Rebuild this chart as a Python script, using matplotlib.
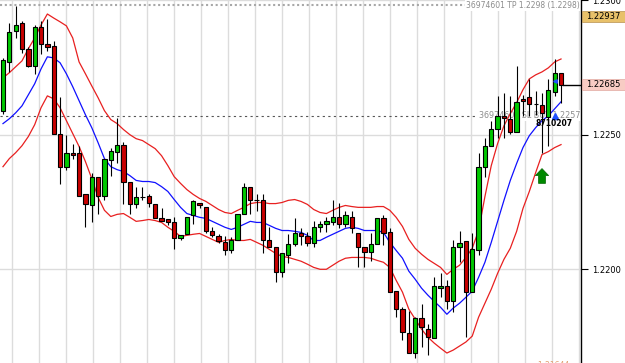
import numpy as np
import matplotlib.pyplot as plt
from matplotlib.patches import Rectangle
from matplotlib.transforms import blended_transform_factory

# candles (oldest first)
opens = [1.22589, 1.22770, 1.22885, 1.22915, 1.22819, 1.22756, 1.22900, 1.22837, 1.22830, 1.22504,
         1.22381, 1.22430, 1.22433, 1.22278, 1.22237, 1.22341, 1.22274, 1.22407, 1.22437, 1.22463,
         1.22326, 1.22244, 1.22270, 1.22274, 1.22244, 1.22189, 1.22185, 1.22174, 1.22115, 1.22130,
         1.22200, 1.22248, 1.22230, 1.22141, 1.22122, 1.22100, 1.22070, 1.22107, 1.22204, 1.22304,
         1.22259, 1.22259, 1.22107, 1.22081, 1.21989, 1.22052, 1.22093, 1.22133, 1.22122, 1.22096,
         1.22156, 1.22167, 1.22174, 1.22196, 1.22167, 1.22196, 1.22133, 1.22081, 1.22063, 1.22093,
         1.22189, 1.22137, 1.21919, 1.21852, 1.21763, 1.21689, 1.21819, 1.21778, 1.21744, 1.21930,
         1.21937, 1.21881, 1.22081, 1.22104, 1.21915, 1.22070, 1.22378, 1.22459, 1.22522, 1.22570,
         1.22559, 1.22511, 1.22633, 1.22641, 1.22615, 1.22611, 1.22567, 1.22659, 1.22730]
highs = [1.22785, 1.22915, 1.22978, 1.22922, 1.22826, 1.22907, 1.22922, 1.22930, 1.22848, 1.22641,
         1.22500, 1.22467, 1.22456, 1.22278, 1.22356, 1.22341, 1.22411, 1.22452, 1.22563, 1.22474,
         1.22326, 1.22304, 1.22307, 1.22281, 1.22244, 1.22226, 1.22185, 1.22193, 1.22126, 1.22193,
         1.22256, 1.22248, 1.22230, 1.22156, 1.22130, 1.22122, 1.22119, 1.22204, 1.22322, 1.22304,
         1.22281, 1.22281, 1.22156, 1.22081, 1.22059, 1.22130, 1.22189, 1.22152, 1.22137, 1.22181,
         1.22181, 1.22193, 1.22256, 1.22248, 1.22215, 1.22215, 1.22133, 1.22081, 1.22133, 1.22189,
         1.22200, 1.22152, 1.21919, 1.21859, 1.21844, 1.21822, 1.21870, 1.21796, 1.21970, 1.21985,
         1.21959, 1.22107, 1.22141, 1.22104, 1.22133, 1.22430, 1.22489, 1.22552, 1.22644, 1.22656,
         1.22644, 1.22756, 1.22648, 1.22707, 1.22663, 1.22656, 1.22707, 1.22781, 1.22730]
lows = [1.22578, 1.22733, 1.22859, 1.22804, 1.22752, 1.22726, 1.22800, 1.22811, 1.22504, 1.22315,
        1.22367, 1.22411, 1.22274, 1.22156, 1.22174, 1.22207, 1.22256, 1.22348, 1.22393, 1.22244,
        1.22207, 1.22226, 1.22256, 1.22233, 1.22189, 1.22178, 1.22163, 1.22074, 1.22107, 1.22130,
        1.22170, 1.22226, 1.22133, 1.22119, 1.22096, 1.22052, 1.22059, 1.22107, 1.22204, 1.22207,
        1.22215, 1.22059, 1.22081, 1.21952, 1.21970, 1.22022, 1.22085, 1.22089, 1.22085, 1.22081,
        1.22137, 1.22137, 1.22163, 1.22152, 1.22156, 1.22133, 1.22007, 1.22007, 1.22030, 1.22093,
        1.22089, 1.21915, 1.21822, 1.21737, 1.21689, 1.21670, 1.21711, 1.21682, 1.21744, 1.21896,
        1.21852, 1.21841, 1.22026, 1.21748, 1.21915, 1.22052, 1.22341, 1.22459, 1.22489, 1.22489,
        1.22504, 1.22511, 1.22570, 1.22570, 1.22574, 1.22430, 1.22459, 1.22644, 1.22619]
closes = [1.22778, 1.22881, 1.22907, 1.22819, 1.22756, 1.22900, 1.22837, 1.22826, 1.22504, 1.22381,
          1.22430, 1.22426, 1.22274, 1.22241, 1.22344, 1.22274, 1.22411, 1.22441, 1.22463, 1.22326,
          1.22244, 1.22267, 1.22270, 1.22248, 1.22189, 1.22178, 1.22174, 1.22115, 1.22126, 1.22193,
          1.22252, 1.22237, 1.22141, 1.22126, 1.22104, 1.22070, 1.22107, 1.22204, 1.22304, 1.22256,
          1.22256, 1.22107, 1.22081, 1.21989, 1.22059, 1.22093, 1.22133, 1.22122, 1.22096, 1.22156,
          1.22170, 1.22178, 1.22196, 1.22167, 1.22200, 1.22152, 1.22081, 1.22063, 1.22093, 1.22189,
          1.22133, 1.21915, 1.21852, 1.21767, 1.21689, 1.21819, 1.21785, 1.21748, 1.21937, 1.21937,
          1.21881, 1.22081, 1.22096, 1.21915, 1.22074, 1.22378, 1.22459, 1.22522, 1.22570, 1.22563,
          1.22511, 1.22622, 1.22626, 1.22615, 1.22615, 1.22581, 1.22667, 1.22730, 1.22685]

# envelope bands, read at each candle
upper = [1.22711, 1.22730, 1.22752, 1.22774, 1.22819, 1.22859, 1.22907, 1.22948, 1.22933, 1.22919,
         1.22904, 1.22859, 1.22770, 1.22726, 1.22681, 1.22637, 1.22589, 1.22556, 1.22541, 1.22519,
         1.22500, 1.22485, 1.22478, 1.22463, 1.22448, 1.22422, 1.22385, 1.22344, 1.22319, 1.22296,
         1.22278, 1.22263, 1.22252, 1.22237, 1.22222, 1.22211, 1.22207, 1.22219, 1.22230, 1.22244,
         1.22248, 1.22248, 1.22244, 1.22244, 1.22248, 1.22256, 1.22259, 1.22252, 1.22241, 1.22222,
         1.22211, 1.22207, 1.22219, 1.22230, 1.22237, 1.22233, 1.22230, 1.22230, 1.22230, 1.22233,
         1.22233, 1.22219, 1.22193, 1.22159, 1.22111, 1.22078, 1.22056, 1.22037, 1.22022, 1.22007,
         1.21981, 1.22000, 1.22015, 1.22044, 1.22078, 1.22144, 1.22270, 1.22385, 1.22467, 1.22533,
         1.22578, 1.22619, 1.22667, 1.22707, 1.22722, 1.22733, 1.22748, 1.22770, 1.22781]
middle = [1.22541, 1.22559, 1.22581, 1.22607, 1.22648, 1.22689, 1.22744, 1.22789, 1.22785, 1.22767,
          1.22726, 1.22678, 1.22626, 1.22574, 1.22526, 1.22470, 1.22411, 1.22381, 1.22370, 1.22363,
          1.22348, 1.22330, 1.22326, 1.22326, 1.22322, 1.22307, 1.22289, 1.22259, 1.22230, 1.22207,
          1.22200, 1.22193, 1.22189, 1.22178, 1.22167, 1.22156, 1.22148, 1.22156, 1.22167, 1.22178,
          1.22174, 1.22174, 1.22163, 1.22152, 1.22144, 1.22144, 1.22141, 1.22137, 1.22126, 1.22107,
          1.22107, 1.22119, 1.22130, 1.22141, 1.22152, 1.22156, 1.22152, 1.22144, 1.22144, 1.22144,
          1.22137, 1.22100, 1.22070, 1.22041, 1.21993, 1.21963, 1.21930, 1.21904, 1.21881, 1.21859,
          1.21833, 1.21856, 1.21874, 1.21896, 1.21919, 1.21970, 1.22026, 1.22100, 1.22178, 1.22256,
          1.22330, 1.22393, 1.22452, 1.22496, 1.22526, 1.22552, 1.22570, 1.22596, 1.22622]
lower = [1.22381, 1.22411, 1.22433, 1.22459, 1.22493, 1.22537, 1.22600, 1.22644, 1.22633, 1.22600,
         1.22552, 1.22504, 1.22456, 1.22400, 1.22337, 1.22267, 1.22219, 1.22196, 1.22204, 1.22207,
         1.22193, 1.22178, 1.22181, 1.22185, 1.22181, 1.22174, 1.22156, 1.22141, 1.22122, 1.22126,
         1.22130, 1.22133, 1.22122, 1.22111, 1.22100, 1.22107, 1.22111, 1.22107, 1.22107, 1.22111,
         1.22100, 1.22089, 1.22074, 1.22059, 1.22048, 1.22044, 1.22037, 1.22030, 1.22019, 1.22007,
         1.22000, 1.22000, 1.22015, 1.22030, 1.22041, 1.22044, 1.22044, 1.22044, 1.22041, 1.22033,
         1.22026, 1.22007, 1.21959, 1.21915, 1.21852, 1.21815, 1.21778, 1.21748, 1.21726, 1.21707,
         1.21689, 1.21700, 1.21715, 1.21730, 1.21752, 1.21822, 1.21874, 1.21926, 1.21985, 1.22037,
         1.22078, 1.22141, 1.22226, 1.22289, 1.22359, 1.22426, 1.22437, 1.22452, 1.22463]

price_ticks = [1.2200, 1.2250, 1.2300]
price_labels = ["1.2200", "1.2250", "1.2300"]
tp_price = 1.2298
sl_price = 1.2257
ask_price = 1.22937
last_price = 1.22685
low_price = 1.21644
tp_text = "36974601 TP 1.2298 (1.2298)"
sl_text = "36974601 SL BUY 1.2257"
order_text = "8710207"

GREEN = "#00C800"
RED = "#C80000"

fig = plt.figure(figsize=(6.25, 3.63), dpi=100)
ax = fig.add_axes([0, 0, 581 / 625, 1])
ax.set_xlim(-0.47, 91.15)
ax.set_ylim(1.21652, 1.22996)

# grid
for gx in np.arange(1.42, 91, 4.258):
    ax.axvline(gx, color="#DCDCDC", lw=1.0, zorder=0)
for p in price_ticks:
    ax.axhline(p, color="#DCDCDC", lw=1.0, zorder=0)

# order levels
ax.axhline(tp_price, color="#A8A8A8", lw=1.5, dashes=(1, 1.3), zorder=1)
ax.axhline(sl_price, color="#555555", lw=0.8, dashes=(2, 3), zorder=1)
ax.text(91.0, tp_price, tp_text, ha="right", va="center", fontsize=5.5,
        color="#8C8C8C", bbox=dict(fc="white", ec="none", pad=0.6), zorder=1.5)
ax.text(91.0, sl_price, sl_text, ha="right", va="center", fontsize=5.8,
        color="#8C8C8C", bbox=dict(fc="white", ec="none", pad=0.6), zorder=1.5)

# bands
idx = np.arange(len(opens))
ax.plot(idx, upper, color="#E82020", lw=0.9, zorder=2)
ax.plot(idx, lower, color="#E82020", lw=0.9, zorder=2)
ax.plot(idx, middle, color="#1010FF", lw=0.9, zorder=2)

# candles
o = np.array(opens)
c = np.array(closes)
colors = np.where(c > o, GREEN, RED)
ax.vlines(idx, lows, highs, color="black", lw=0.8, zorder=3)
ax.bar(idx, c - o, bottom=o, width=0.68, color=colors, edgecolor="black",
       linewidth=0.8, zorder=4)

# markers and notes
ax.arrow(85, 1.22319, 0, 0.00055, width=1.1, head_width=2.1, head_length=0.00026,
         length_includes_head=True, fc="#008A00", ec="#006400", lw=0.5, zorder=5)
ax.plot([87], [sl_price], marker="^", ms=4.5, color="#2050FF", zorder=5)
ax.plot([87.1], [1.22700], marker="<", ms=2.5, color="#2050FF", zorder=5)
ax.text(86.9, 1.22541, order_text, ha="center", va="center", fontsize=5.5,
        fontweight="bold", color="black", zorder=6)
ax.plot([88.3, 91.15], [last_price, last_price], color="black", lw=1.0, zorder=5,
        clip_on=False)
ax.text(87.4, low_price, "1.21644 \u25b8", ha="center", va="center", fontsize=5.5,
        color="#E0A070", zorder=6)

# right price scale
for side in ["left", "top", "bottom"]:
    ax.spines[side].set_visible(False)
ax.spines["right"].set_color("black")
ax.spines["right"].set_linewidth(1.0)
ax.set_xticks([])
ax.yaxis.tick_right()
ax.set_yticks(price_ticks)
ax.set_yticklabels(price_labels)
ax.tick_params(axis="y", length=5, width=0.8, pad=3, labelsize=6, colors="black")

trans = blended_transform_factory(ax.transAxes, ax.transData)
for price, fc in [(ask_price, "#E8C16A"), (last_price, "#F8CCC4")]:
    ax.add_patch(Rectangle((1.0017, price - 0.000205), 0.074, 0.00041, transform=trans,
                           fc=fc, ec="#B89050" if price == ask_price else "#E0A8A0",
                           lw=0.5, clip_on=False, zorder=6))
    ax.text(603.5 / 581, price, f"{price:.5f}", transform=trans, ha="center",
            va="center", fontsize=6, color="black", zorder=7, clip_on=False)

fig.savefig("out.png", dpi=100, facecolor="white")
plt.close()
